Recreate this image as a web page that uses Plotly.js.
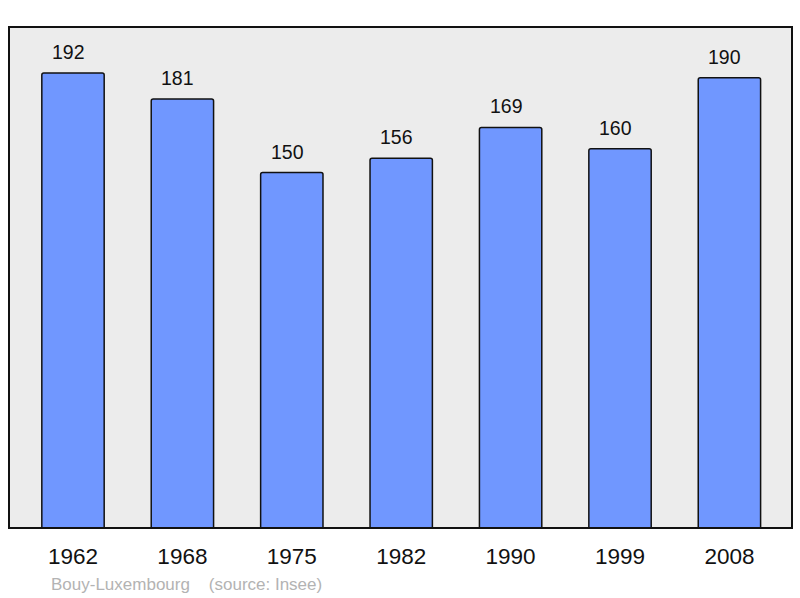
<!DOCTYPE html>
<html>
<head>
<meta charset="utf-8">
<script src="https://cdn.plot.ly/plotly-3.0.1.min.js"></script>
<style>html,body{margin:0;padding:0;background:#fff;}#chart{width:800px;height:598px;}</style>
</head>
<body>
<div id="chart"></div>
<script>
const years = ["1962", "1968", "1975", "1982", "1990", "1999", "2008"];
const population = [192, 181, 150, 156, 169, 160, 190];
const placeName = "Bouy-Luxembourg";
const sourceText = "(source: Insee)";

const trace = {
  type: "bar",
  x: years,
  y: population,
  width: 0.57,
  marker: {color: "#7097ff", line: {color: "#111", width: 1.5}, cornerradius: 2},
  hoverinfo: "skip"
};

const annotations = years.map((yr, i) => ({
  x: i, y: population[i], xref: "x", yref: "y",
  text: String(population[i]), showarrow: false,
  yanchor: "middle", yshift: 21, xshift: -4.5,
  font: {family: "Liberation Sans, Arial, sans-serif", size: 19.5, color: "#111"}
}));
annotations.push({
  xref: "paper", yref: "paper", x: 0.0505, y: -0.112, xanchor: "left", yanchor: "middle",
  text: placeName + "&nbsp;&nbsp;&nbsp;&nbsp;" + sourceText, showarrow: false,
  font: {family: "Liberation Sans, Arial, sans-serif", size: 17, color: "#b3b3b3"}
});

const layout = {
  width: 800, height: 598,
  margin: {l: 9, r: 8, t: 27, b: 70},
  paper_bgcolor: "#ffffff",
  plot_bgcolor: "#ececec",
  showlegend: false,
  xaxis: {
    type: "category", range: [-0.585, 6.572],
    showgrid: false, zeroline: false, showline: false,
    ticks: "outside", ticklen: 8, tickcolor: "rgba(0,0,0,0)",
    tickfont: {family: "Liberation Sans, Arial, sans-serif", size: 22.5, color: "#111"},
    fixedrange: true
  },
  yaxis: {
    range: [0, 211.4], showgrid: false, zeroline: false, showline: false,
    showticklabels: false, ticks: "", fixedrange: true
  },
  shapes: [{
    type: "rect", xref: "paper", yref: "paper", x0: 0, y0: 0, x1: 1, y1: 1,
    line: {color: "#111", width: 2}, fillcolor: "rgba(0,0,0,0)", layer: "above"
  }],
  annotations: annotations
};

Plotly.newPlot("chart", [trace], layout, {displayModeBar: false, staticPlot: true});
</script>
</body>
</html>
